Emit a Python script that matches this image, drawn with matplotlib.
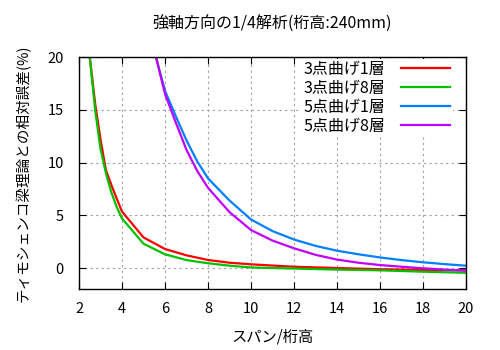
import numpy as np
import matplotlib
matplotlib.use('Agg')
import matplotlib.pyplot as plt

plt.rcParams['font.family'] = ['Noto Sans CJK JP', 'DejaVu Sans']

# 3点曲げ (3-point bending)
x3 = [2.5, 2.75, 3, 3.25, 3.5, 3.75, 4, 5, 6, 7, 8, 9, 10, 12, 14, 16, 18, 20]
r3_1 = [20, 15.6, 12.2, 9.3, 7.9, 6.6, 5.35, 2.9, 1.8, 1.2, 0.76, 0.5, 0.35, 0.12, 0.0, -0.12, -0.18, -0.22]
r3_8 = [20, 15.0, 11.3, 9.0, 7.2, 5.8, 4.7, 2.3, 1.3, 0.75, 0.45, 0.22, 0.05, -0.05, -0.15, -0.22, -0.35, -0.45]

# 5点曲げ (5-point bending)
x5 = [5.58, 6, 6.5, 7, 7.5, 8, 9, 10, 11, 12, 13, 14, 15, 16, 17, 18, 19, 20]
r5_1 = [20, 16.8, 14.4, 12.1, 10.1, 8.5, 6.4, 4.6, 3.5, 2.7, 2.1, 1.64, 1.3, 1.0, 0.75, 0.54, 0.37, 0.22]
r5_8 = [20, 16.5, 13.8, 11.2, 9.2, 7.6, 5.3, 3.6, 2.6, 1.87, 1.25, 0.8, 0.5, 0.28, 0.12, -0.03, -0.15, -0.25]

labels = ['3点曲げ1層', '3点曲げ8層', '5点曲げ1層', '5点曲げ8層']
colors = ['#ff0000', '#00c000', '#0080ff', '#c000ff']

fig = plt.figure(figsize=(5, 3.5), dpi=100)
ax = fig.add_axes([0.158, 0.174, 0.774, 0.663])

ax.plot(x3, r3_1, color=colors[0], lw=1.6, label=labels[0])
ax.plot(x3, r3_8, color=colors[1], lw=1.6, label=labels[1])
ax.plot(x5, r5_1, color=colors[2], lw=1.6, label=labels[2])
ax.plot(x5, r5_8, color=colors[3], lw=1.6, label=labels[3])

ax.set_xlim(2, 20)
ax.set_ylim(-2, 20)
ax.set_xticks(np.arange(2, 21, 2))
ax.set_yticks([0, 5, 10, 15, 20])
ax.grid(True, color='#a0a0a0', linestyle=(0, (2, 3)), lw=0.8)
ax.tick_params(direction='in', top=True, right=True, length=5, labelsize=10.5)
ax.tick_params(axis='y', pad=11)
ax.tick_params(axis='x', pad=9)
for s in ax.spines.values():
    s.set_linewidth(1)

ax.set_title('強軸方向の1/4解析(桁高:240mm)', fontsize=11.5, pad=20)
ax.set_xlabel('スパン/桁高', fontsize=11, labelpad=9)
ax.set_ylabel('ティモシェンコ梁理論との相対誤差(%)', fontsize=10.5, labelpad=12)

leg = ax.legend(loc='upper right', markerfirst=False, prop={'size': 11.5}, frameon=True,
                fancybox=False, borderaxespad=0.1, handlelength=3.1, handletextpad=1.0,
                labelspacing=0.12, borderpad=0.15, bbox_to_anchor=(0.97, 1.0))
leg.get_frame().set_edgecolor('none')
leg.get_frame().set_facecolor('white')
leg.get_frame().set_alpha(1)

fig.savefig('out.png', dpi=100)
